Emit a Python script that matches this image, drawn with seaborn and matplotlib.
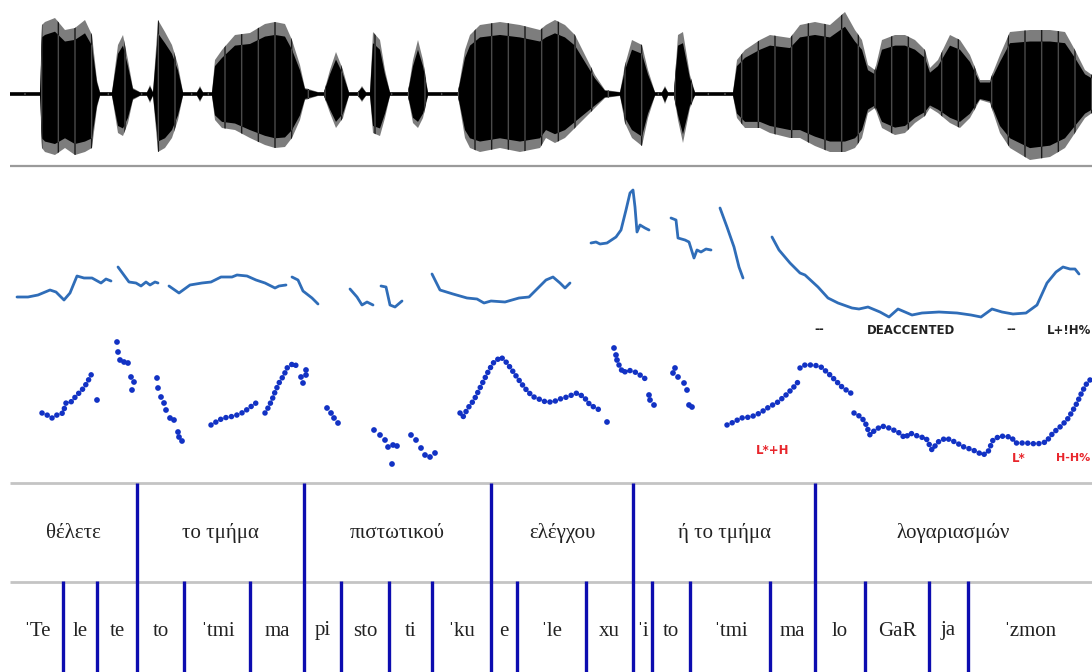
import numpy as np
import pandas as pd
import matplotlib
matplotlib.use("Agg")
import matplotlib.pyplot as plt
import seaborn as sns

sns.set_theme(style="white")
plt.rcParams['font.family'] = ['Liberation Serif', 'DejaVu Serif']
plt.rcParams['hatch.linewidth'] = 1.0

# ---------------- waveform envelope (time, upper edge, lower edge) ----------------
wave_t = [10, 40, 42, 45, 55, 65, 75, 85, 92, 97, 100, 112, 118, 123, 128, 133, 140, 147, 150, 153,
          158, 165, 172, 178, 183, 197, 200, 203, 212, 215, 222, 235, 250, 265, 275, 285, 292, 300,
          305, 318, 324, 330, 336, 343, 349, 358, 362, 366, 370, 373, 380, 385, 390, 408, 413, 418,
          423, 428, 458, 465, 470, 480, 500, 520, 540, 546, 555, 565, 575, 585, 595, 605, 620, 625,
          632, 642, 648, 655, 662, 665, 668, 674, 678, 683, 690, 695, 733, 737, 745, 760, 770, 790,
          800, 815, 830, 845, 855, 862, 868, 875, 882, 895, 905, 915, 925, 930, 938, 950, 960, 970,
          980, 990, 1000, 1010, 1030, 1050, 1065, 1075, 1085, 1092]
wave_top = [92, 92, 25, 22, 18, 30, 28, 20, 35, 80, 92, 92, 45, 35, 60, 88, 92, 92, 85, 92,
            20, 32, 45, 65, 92, 92, 86, 92, 92, 60, 50, 35, 33, 24, 22, 24, 40, 65,
            88, 92, 92, 70, 52, 70, 92, 92, 86, 92, 92, 32, 40, 70, 92, 92, 60, 40,
            60, 92, 92, 50, 35, 25, 22, 25, 30, 25, 20, 25, 35, 55, 75, 90, 92, 65,
            40, 45, 70, 92, 92, 86, 92, 92, 35, 32, 75, 92, 92, 60, 50, 40, 35, 38,
            25, 22, 25, 12, 30, 40, 65, 70, 40, 35, 35, 40, 50, 68, 60, 35, 40, 55,
            80, 80, 55, 32, 30, 30, 32, 50, 70, 75]
wave_bot = [96, 96, 148, 152, 155, 148, 155, 152, 148, 108, 96, 96, 133, 136, 123, 100, 96, 96, 103, 96,
            152, 148, 138, 120, 96, 96, 102, 96, 96, 120, 128, 130, 138, 145, 148, 147, 138, 120,
            100, 96, 96, 113, 128, 118, 96, 96, 102, 96, 96, 133, 136, 118, 96, 96, 123, 128,
            118, 96, 96, 138, 148, 152, 148, 152, 148, 138, 143, 138, 128, 118, 108, 98, 96, 123,
            138, 146, 118, 96, 96, 104, 96, 96, 120, 143, 108, 96, 96, 118, 128, 128, 133, 138,
            138, 146, 152, 152, 148, 138, 113, 108, 128, 135, 133, 123, 116, 108, 113, 123, 128, 118,
            100, 103, 133, 148, 160, 157, 148, 133, 118, 113]
wave_center = 94

# ---------------- pitch contour (continuous line) ----------------
contour_1 = ([17, 28, 38, 50, 56, 64, 70, 77, 84, 92, 101, 106, 111],
             [297, 297, 295, 290, 292, 300, 293, 276, 278, 278, 283, 279, 281])
contour_2 = ([118, 129, 136, 141, 146, 150, 155, 158],
             [267, 282, 283, 286, 282, 285, 282, 283])
contour_3 = ([169, 179, 190, 202, 211, 221, 232, 237, 247, 256, 265, 275, 279, 286],
             [286, 293, 285, 283, 282, 277, 277, 275, 276, 280, 283, 288, 286, 285])
contour_4 = ([292, 298, 303, 312, 318], [277, 280, 291, 298, 304])
contour_5 = ([350, 357, 362, 367, 373], [289, 297, 305, 302, 305])
contour_6 = ([381, 386, 388, 390, 395, 402], [286, 287, 296, 305, 307, 301])
contour_7 = ([432, 440, 453, 467, 477, 484, 491, 505, 519, 529, 538, 546, 553, 560, 565, 570],
             [274, 290, 294, 298, 299, 303, 301, 302, 298, 297, 288, 280, 277, 283, 288, 283])
contour_8 = ([591, 596, 600, 607, 616, 621, 626, 630, 633, 635, 637, 640, 645, 649],
             [243, 242, 244, 243, 237, 230, 210, 193, 190, 207, 232, 225, 228, 230])
contour_9 = ([671, 676, 678, 685, 689, 694, 697, 701, 706, 711],
             [218, 220, 238, 240, 242, 258, 250, 252, 249, 250])
contour_10 = ([720, 727, 734, 739, 743], [208, 227, 247, 267, 278])
contour_11 = ([772, 779, 790, 800, 805, 818, 828, 838, 852, 859, 868, 880, 889, 898, 912, 922, 939,
               957, 971, 981, 992, 1002, 1013, 1026, 1037, 1047, 1056, 1063, 1070, 1075, 1079],
              [237, 250, 263, 273, 275, 287, 298, 303, 308, 309, 307, 312, 317, 309, 315, 313, 312,
               313, 315, 317, 309, 312, 314, 313, 305, 283, 272, 267, 269, 269, 274])
contours = [contour_1, contour_2, contour_3, contour_4, contour_5, contour_6,
            contour_7, contour_8, contour_9, contour_10, contour_11]

# ---------------- pitch points (dotted tracks) ----------------
dots_1 = ([42, 47, 52, 57, 63, 66, 71, 77, 82, 87, 91, 93],
          [413, 415, 418, 415, 413, 403, 402, 395, 390, 383, 375, 373])
dots_2 = ([211, 216, 223, 230, 237, 244, 249, 256, 259],
          [425, 422, 418, 417, 415, 412, 408, 403, 402])
dots_3 = ([265, 268, 272, 275, 279, 284, 287, 291, 294, 298],
          [413, 408, 400, 392, 383, 375, 368, 365, 363, 368])
dots_4 = ([460, 463, 468, 474, 479, 484, 489, 494, 501, 507, 514, 521, 528, 534, 546, 553, 560,
           567, 577, 584, 590, 596, 603],
          [413, 417, 408, 400, 390, 380, 370, 362, 357, 363, 373, 383, 392, 397, 402, 402, 399,
           397, 393, 397, 405, 408, 412])
dots_5 = ([619, 623, 628, 635, 640, 647], [365, 373, 370, 372, 375, 380])
dots_6 = ([727, 734, 741, 751, 760, 769, 778, 786, 793, 798],
          [425, 422, 418, 417, 413, 407, 402, 395, 388, 382])
dots_7 = ([800, 805, 814, 821, 828, 835, 842, 849, 854],
          [368, 365, 365, 367, 373, 380, 387, 392, 395])
dots_8 = ([854, 861, 865, 870, 875, 882, 889, 898, 905, 910, 915, 920, 926, 932, 938, 946, 955,
           964, 973, 983, 988, 993, 1000, 1011, 1016, 1026, 1037, 1046, 1053, 1060, 1067, 1072,
           1077, 1082, 1087, 1092],
          [413, 417, 422, 435, 430, 426, 428, 432, 438, 433, 435, 437, 438, 450, 442, 438, 442,
           447, 450, 455, 452, 440, 436, 437, 443, 443, 444, 442, 433, 427, 420, 412, 403, 392,
           383, 378])
dot_tracks = [dots_1, dots_2, dots_3, dots_4, dots_5, dots_6, dots_7, dots_8]

single_x = [97, 117, 118, 120, 124, 128, 131, 134, 132, 157, 158, 161, 164, 166, 170, 174, 178,
            179, 182, 301, 303, 306, 306, 327, 331, 334, 338, 374, 380, 385, 388, 393, 397, 392,
            411, 416, 421, 425, 430, 435, 607, 614, 616, 617, 649, 650, 654, 673, 675, 678, 684,
            687, 689, 692]
single_y = [400, 342, 352, 360, 362, 363, 377, 382, 390, 378, 388, 397, 403, 410, 418, 420, 432,
            437, 441, 377, 383, 370, 375, 408, 413, 418, 423, 430, 435, 440, 447, 445, 446, 464,
            435, 440, 448, 455, 457, 453, 422, 348, 355, 360, 395, 400, 405, 373, 368, 377, 383,
            390, 405, 407]

# ---------------- annotation tiers ----------------
words = ["θέλετε", "το τμήμα", "πιστωτικού", "ελέγχου", "ή το τμήμα", "λογαριασμών"]
word_bounds = [10, 137, 304, 491, 633, 815, 1092]
syllables = ["ˈTe", "le", "te", "to", "ˈtmi", "ma", "pi", "sto", "ti", "ˈku", "e", "ˈle", "xu",
             "ˈi", "to", "ˈtmi", "ma", "lo", "GaR", "ja", "ˈzmon"]
syll_bounds = [10, 63, 97, 137, 184, 250, 304, 341, 389, 432, 491, 517, 586, 633, 652, 690,
               770, 815, 865, 929, 968, 1092]

# tonal labels
upper_labels = ["--", "DEACCENTED", "--", "L+!H%"]
upper_label_t = [819, 911, 1011, 1047]
lower_labels = ["L*+H", "L*", "H-H%"]
lower_label_t = [756, 1012, 1056]

# ---------------- drawing ----------------
W, H = 1092, 672
fig = plt.figure(figsize=(W / 100, H / 100), dpi=100)
fig.patch.set_facecolor("white")
ax = fig.add_axes([0, 0, 1, 1])

# waveform: grey fringe + striated black core
wt = np.array(wave_t, float)
wtop = np.array(wave_top, float)
wbot = np.array(wave_bot, float)
ax.fill_between(wt, wtop, wbot, facecolor="#7d7d7d", edgecolor="#1a1a1a", hatch="|", lw=0)
ax.fill_between(wt, wave_center - 0.82 * (wave_center - wtop),
                wave_center + 0.82 * (wbot - wave_center),
                facecolor="black", edgecolor="#4a4a4a", hatch="|", lw=0)
ax.hlines(166, 10, W, color="#9a9a9a", lw=1.6)

# pitch contour line
df_c = pd.concat([pd.DataFrame({"t": c[0], "f0": c[1], "seg": i}) for i, c in enumerate(contours)])
sns.lineplot(data=df_c, x="t", y="f0", units="seg", estimator=None, sort=False,
             color="#2f6db8", lw=2.0, legend=False, ax=ax)

# dotted pitch tracks
dot_col = "#1232c4"
for trk in dot_tracks:
    ax.plot(trk[0], trk[1], color=dot_col, lw=4.0, linestyle=(0, (0.01, 1.0)),
            dash_capstyle="round", solid_capstyle="round")
sns.scatterplot(x=single_x, y=single_y, color=dot_col, s=17, edgecolor="none", ax=ax, legend=False)

ax.set_xlim(0, W)
ax.set_ylim(H, 0)
ax.axis("off")

# tonal labels
lab_font = ["DejaVu Sans"]
for lab, t in zip(upper_labels, upper_label_t):
    ha = "left" if lab.startswith("L+") else "center"
    ax.text(t, 330, lab, ha=ha, va="center", fontsize=8.5, fontweight="bold",
            family=lab_font, color="#222222")
for lab, t in zip(lower_labels, lower_label_t):
    ax.text(t, 451 if lab == "L*+H" else 458, lab, ha="left", va="center",
            fontsize=8.5 if lab != "H-H%" else 8, fontweight="bold", family=lab_font,
            color="#e8262c")

# tiers
ax.hlines([483, 582], 10, W, color="#c4c4c4", lw=2)
tier_col = "#0c0cb0"
inner_words = word_bounds[1:-1]
inner_syll = [b for b in syll_bounds[1:-1] if b not in inner_words]
ax.vlines(inner_words, 483, H, color=tier_col, lw=2.4)
ax.vlines(inner_syll, 581, H, color=tier_col, lw=2.4)
for w, a, b in zip(words, word_bounds[:-1], word_bounds[1:]):
    ax.text((a + b) / 2, 533, w, ha="center", va="center", fontsize=15, color="#222222")
for s, a, b in zip(syllables, syll_bounds[:-1], syll_bounds[1:]):
    ax.text((a + b) / 2, 631, s, ha="center", va="center", fontsize=15, color="#222222")

fig.savefig("out.png", dpi=100, facecolor="white")
